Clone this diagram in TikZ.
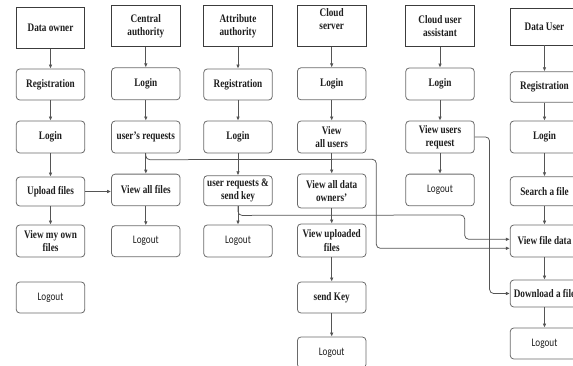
\documentclass[tikz,border=0pt]{standalone}
\usepackage{fontspec}
\usetikzlibrary{arrows.meta}
\newfontfamily\boxfont{Liberation Serif}[FakeStretch=0.8]
\newfontfamily\outfont{Carlito}[FakeStretch=0.8]
\definecolor{linegray}{HTML}{6A6A6A}
\definecolor{headgray}{HTML}{3C3C3C}
\definecolor{arrowgray}{HTML}{555555}
\definecolor{inkcol}{HTML}{1E1E1E}

\begin{document}
\begin{tikzpicture}[x=1pt,y=-1pt,
  base/.style={draw=linegray, line width=0.8pt, minimum width=68.5pt, align=center,
    inner sep=2pt, text=inkcol, font=\boxfont\bfseries\fontsize{11.5}{13.3}\selectfont},
  head/.style={base, draw=headgray, line width=0.9pt, minimum height=41pt},
  stepbox/.style={base, rounded corners=3.5pt, minimum height=31pt},
  endbox/.style={stepbox, font=\outfont\fontsize{11.5}{13.3}\selectfont},
  arr/.style={draw=arrowgray, line width=0.75pt, -{Latex[length=4pt,width=3.6pt]}},
  route/.style={arr, rounded corners=4pt}]
\useasboundingbox (0,0) rectangle (573,366);
\clip (0,0) rectangle (573,366);

% Data owner
\node[head] (h1) at (50.5,27.8) {Data owner};
\node[stepbox] (a2) at (50.5,84.5) {Registration};
\node[stepbox, minimum height=32pt] (a3) at (50.5,137) {Login};
\node[stepbox, minimum height=29pt] (a4) at (50.5,191.5) {Upload files};
\node[stepbox, minimum height=32pt] (a5) at (50.5,241) {View my own\\files};
\node[endbox] (a6) at (50.5,297.5) {Logout};

% Central authority
\node[head, minimum height=40.7pt] (h2) at (145.8,26.3) {Central\\authority};
\node[stepbox, minimum height=32pt] (b2) at (145.8,83.8) {Login};
\node[stepbox, minimum height=32pt] (b3) at (145.8,137) {user’s requests};
\node[stepbox, minimum height=31.7pt] (b4) at (145.8,190) {View all files};
\node[endbox, minimum height=31pt] (b5) at (145.8,241.2) {Logout};

% Attribute authority
\node[head, minimum height=40.7pt] (h3) at (238,26.3) {Attribute\\authority};
\node[stepbox] (c2) at (238,84.5) {Registration};
\node[stepbox, minimum height=32pt] (c3) at (238,137) {Login};
\node[stepbox, minimum height=30pt] (c4) at (238,190.7) {user requests \&\\send key};
\node[endbox, minimum height=32pt] (c5) at (238,241) {Logout};

% Cloud server
\node[head, minimum height=40.7pt] (h4) at (331.7,26.3) {};
\node[font=\boxfont\bfseries\fontsize{11.5}{13.3}\selectfont, text=inkcol, align=center,
  inner sep=0pt, anchor=north] (h4t) at (331.7,8.5) {Cloud\\server};
\node[stepbox, minimum height=32pt] (d2) at (331.7,83.8) {Login};
\node[stepbox, minimum height=32pt] (d3) at (331.7,137) {View\\all users};
\node[stepbox, minimum height=34pt] (d4) at (331.7,191) {View all data\\owners’};
\node[stepbox, minimum height=33pt] (d5) at (331.7,240.5) {View uploaded\\files};
\node[stepbox] (d6) at (331.7,297.5) {send Key};
\node[endbox, minimum height=31pt] (d7) at (331.7,352.5) {Logout};

% Cloud user assistant
\node[head, minimum height=40.7pt] (h5) at (440,26.3) {Cloud user\\assistant};
\node[stepbox, minimum height=32pt] (e2) at (440,84) {Login};
\node[stepbox, minimum height=32pt] (e3) at (440,137) {View users\\request};
\node[endbox, minimum height=31.7pt] (e4) at (440,190) {Logout};

% Data user
\node[head, minimum height=36.7pt] (h6) at (544.5,26.7) {Data User};
\node[stepbox, minimum height=30.6pt] (f2) at (544.5,87) {Registration};
\node[stepbox, minimum height=32pt] (f3) at (544.5,137) {Login};
\node[stepbox, minimum height=29pt] (f4) at (544.5,191.2) {Search a file};
\node[stepbox, minimum height=32pt] (f5) at (544.5,241) {View file data};
\node[stepbox, minimum height=27pt] (f6) at (544.5,293.5) {Download a file};
\node[endbox, minimum height=31pt] (f7) at (544.5,343.5) {Logout};

% flow inside each column
\foreach \p/\q in {h1/a2, a2/a3, a3/a4, a4/a5,
                   h2/b2, b2/b3, b3/b4, b4/b5,
                   h3/c2, c2/c3, c3/c4, c4/c5,
                   h4/d2, d2/d3, d3/d4, d4/d5, d5/d6, d6/d7,
                   h5/e2, e2/e3, e3/e4,
                   h6/f2, f2/f3, f3/f4, f4/f5, f5/f6, f6/f7}
  \draw[arr] (\p) -- (\q);

% links between columns
\draw[arr] (a4.east) -- (b4.west |- a4.east);

\coordinate (y1) at (0,248.3);
\coordinate (y2) at (0,239.3);
\draw[route] (b3.south) -- ++(0,6.3) -- (376.3,159.3) -- (376.3,248.3) -- (f5.west |- y1);
\draw[route] (c4.south) -- ++(0,9.3) -- (464.7,215) -- (464.7,239.3) -- (f5.west |- y2);
\draw[route] (e3.east) -- (489.6,137) -- (489.6,293.5) -- (f6.west);
\end{tikzpicture}
\end{document}
